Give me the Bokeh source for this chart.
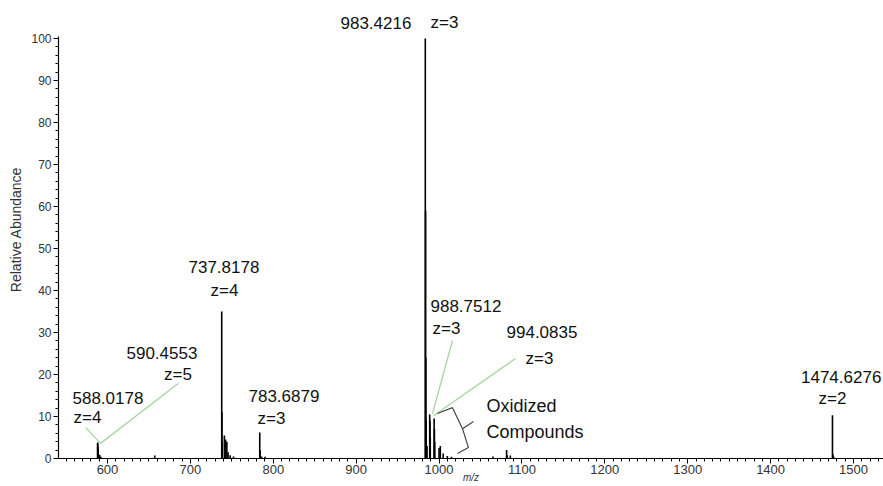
from bokeh.plotting import figure
from bokeh.models import Range1d, FixedTicker, Label
from bokeh.embed import file_html
from bokeh.resources import INLINE

# ---- data ----
peak_mz = [588.02, 588.27, 588.52, 588.77, 590.26, 590.46, 592.0, 657.0,
           737.82, 738.07, 738.32, 741.0, 742.5, 744.0, 745.5, 748.0, 752.0,
           783.69, 784.02, 786.0, 790.0,
           983.42, 983.76, 984.09, 984.42, 985.5,
           988.75, 989.08, 989.42, 994.08, 994.42, 994.75,
           1000.0, 1001.5, 1005.0, 1010.0, 1015.0,
           1065.0, 1081.5, 1082.2, 1086.0,
           1474.63, 1475.13, 1476.0]
peak_int = [3.5, 3.8, 2.8, 1.5, 0.8, 0.9, 0.4, 0.7,
            35.0, 11.0, 4.0, 5.5, 4.5, 4.0, 1.5, 0.8, 0.5,
            6.2, 2.0, 0.5, 0.4,
            100.0, 59.0, 24.0, 9.0, 3.0,
            10.5, 9.0, 5.0, 9.5, 7.0, 4.0,
            2.5, 3.0, 1.2, 0.6, 0.4,
            0.5, 2.0, 0.8, 0.7,
            10.3, 1.0, 0.5]

x_ticks = [600, 700, 800, 900, 1000, 1100, 1200, 1300, 1400, 1500]
y_ticks = [0, 10, 20, 30, 40, 50, 60, 70, 80, 90, 100]

# annotation texts: (text, x, y, align, size)
annotations = [
    ("983.4216", 881.1, 103.8, "left", 17),
    ("z=3", 989.7, 103.8, "left", 17),
    ("737.8178", 740.5, 45.5, "center", 17),
    ("z=4", 741.1, 40.0, "center", 17),
    ("590.4553", 665.7, 25.2, "center", 17),
    ("z=5", 685.1, 20.0, "center", 17),
    ("588.0178", 557.8, 14.5, "left", 17),
    ("z=4", 559.0, 9.8, "left", 17),
    ("783.6879", 770.1, 15.0, "left", 17),
    ("z=3", 781.0, 9.5, "left", 17),
    ("988.7512", 989.7, 36.4, "left", 17),
    ("z=3", 992.1, 31.0, "left", 17),
    ("994.0835", 1081.4, 30.2, "left", 17),
    ("z=3", 1104.3, 23.8, "left", 17),
    ("Oxidized", 1057.2, 12.4, "left", 18),
    ("Compounds", 1057.2, 6.2, "left", 18),
    ("1474.6276", 1533.6, 19.5, "right", 17),
    ("z=2", 1474.7, 14.3, "center", 17),
]

green_x0 = [573.5, 591.6, 992.1, 993.3]
green_y0 = [7.4, 3.6, 10.7, 10.2]
green_x1 = [591.6, 685.7, 1016.2, 1092.2]
green_y1 = [3.6, 17.9, 28.1, 23.8]

bracket_x = [998.1, 1016.2, 1028.3, 1035.5, 1022.3]
bracket_y = [10.7, 12.1, 7.1, 2.6, 1.2]
tick_x = [1028.3, 1041.5]
tick_y = [7.1, 8.8]

FONT = "Liberation Sans"

p = figure(width=883, height=486, output_backend="svg", toolbar_location=None,
           x_range=Range1d(540.9, 1536.2), y_range=Range1d(0, 109.05),
           min_border_left=58, min_border_right=0, min_border_top=0,
           min_border_bottom=28)
p.outline_line_color = None
p.grid.visible = False
p.background_fill_color = "white"

p.segment(x0=peak_mz, y0=[0] * len(peak_mz), x1=peak_mz, y1=peak_int,
          line_color="black", line_width=1.6)

p.segment(x0=green_x0, y0=green_y0, x1=green_x1, y1=green_y1,
          line_color="#a6d6a0", line_width=1.3)
p.line(bracket_x, bracket_y, line_color="#444444", line_width=1.2)
p.line(tick_x, tick_y, line_color="#444444", line_width=1.2)

for ax in (p.xaxis[0], p.yaxis[0]):
    ax.axis_line_color = "black"
    ax.axis_line_width = 1.2
    ax.major_tick_line_color = "black"
    ax.minor_tick_line_color = "black"
    ax.major_tick_out = 5
    ax.major_tick_in = 0
    ax.minor_tick_out = 3
    ax.minor_tick_in = 0
    ax.major_label_text_font = FONT
    ax.major_label_text_color = "#333333"
    ax.axis_label_text_font = FONT
    ax.axis_label_text_color = "#333333"

p.yaxis.bounds = (0, 100.48)
p.xaxis.major_label_text_font_size = "13px"
p.yaxis.major_label_text_font_size = "12px"
p.xaxis.ticker = FixedTicker(ticks=x_ticks, minor_ticks=list(range(550, 1540, 10)))
p.yaxis.ticker = FixedTicker(ticks=y_ticks, minor_ticks=list(range(0, 101, 2)))
p.xaxis.major_label_standoff = 1
p.yaxis.major_label_standoff = 2

p.yaxis.axis_label = "Relative Abundance"
p.yaxis.axis_label_text_font_size = "14px"
p.yaxis.axis_label_text_font_style = "normal"
p.yaxis.axis_label_standoff = 4

p.xaxis.axis_label = "m/z"
p.xaxis.axis_label_text_font_size = "10px"
p.xaxis.axis_label_text_font_style = "italic"
p.xaxis.axis_label_standoff = -5

for txt, x, y, align, size in annotations:
    p.add_layout(Label(x=x, y=y, text=txt, text_align=align, text_baseline="middle",
                       text_font=FONT, text_font_size=f"{size}px", text_color="#111111"))

open("out.html", "w").write(file_html(p, INLINE))
